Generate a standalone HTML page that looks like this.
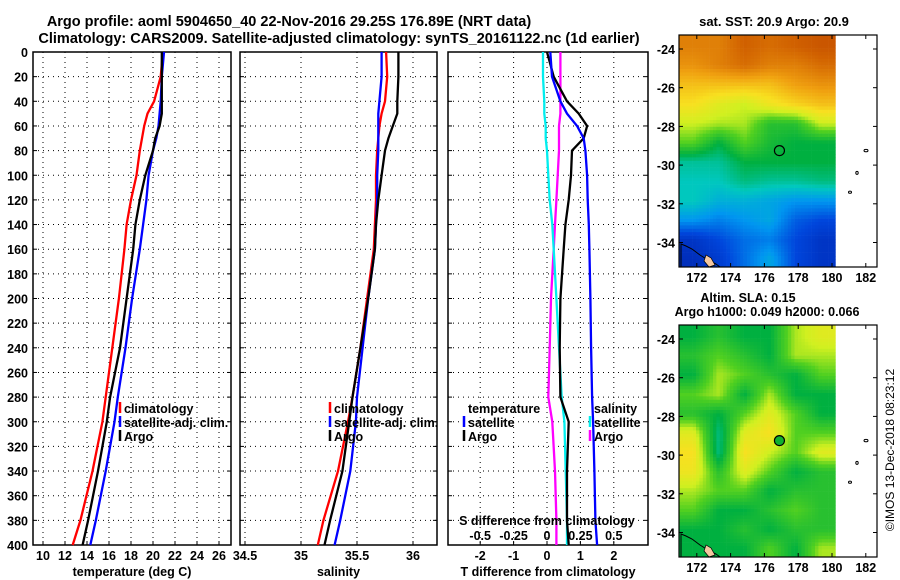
<!DOCTYPE html>
<html><head><meta charset="utf-8"><style>
html,body{margin:0;padding:0;background:#fff;}
svg{display:block;font-family:"Liberation Sans",sans-serif;font-weight:bold;}
</style></head><body>
<svg id="fig" width="900" height="580" viewBox="0 0 900 580">
<text x="289" y="26" font-size="14.5" text-anchor="middle">Argo profile: aoml 5904650_40 22-Nov-2016 29.25S 176.89E (NRT data)</text>
<text x="339" y="43" font-size="14.5" text-anchor="middle">Climatology: CARS2009. Satellite-adjusted climatology: synTS_20161122.nc (1d earlier)</text>
<text x="774" y="26" font-size="13" text-anchor="middle">sat. SST: 20.9 Argo: 20.9</text>
<text x="748" y="302" font-size="12.5" text-anchor="middle">Altim. SLA: 0.15</text>
<text x="767" y="316" font-size="12.5" text-anchor="middle">Argo h1000: 0.049 h2000: 0.066</text>
<text transform="translate(894,450) rotate(-90)" font-size="12" font-weight="normal" text-anchor="middle">©IMOS 13-Dec-2018 08:23:12</text>
<g id="g"></g>
</svg>
<script>
// ---- data ----
const depths = [0,20,40,50,60,70,80,100,120,140,160,200,240,280,300,340,380,400];
const tempClim = [20.9,20.7,20.1,19.5,19.2,19.0,18.8,18.5,18.0,17.6,17.4,16.9,16.3,15.7,15.4,14.5,13.4,12.7];
const tempSat  = [21.0,20.8,20.7,20.6,20.5,20.3,20.0,19.6,19.4,19.1,18.8,18.1,17.5,16.8,16.5,15.7,14.8,14.3];
const tempArgo = [20.8,20.8,20.8,20.8,20.6,20.2,20.0,19.3,18.8,18.4,18.2,17.6,17.0,16.1,15.8,15.0,14.1,13.6];
const salClim = [35.76,35.77,35.75,35.72,35.70,35.69,35.68,35.67,35.67,35.66,35.65,35.59,35.53,35.46,35.42,35.33,35.20,35.15];
const salSat  = [35.72,35.72,35.70,35.69,35.69,35.69,35.69,35.68,35.68,35.67,35.66,35.60,35.55,35.50,35.49,35.44,35.35,35.30];
const salArgo = [35.87,35.87,35.86,35.86,35.82,35.78,35.75,35.72,35.69,35.67,35.66,35.60,35.53,35.46,35.43,35.37,35.26,35.21];
const tDiffSat  = [0.1,0.15,0.4,0.6,0.9,1.1,1.15,1.2,1.22,1.25,1.27,1.3,1.32,1.35,1.38,1.42,1.45,1.5];
const tDiffArgo = [0.0,0.2,0.6,0.95,1.2,1.1,0.75,0.72,0.65,0.55,0.5,0.4,0.38,0.4,0.65,0.6,0.6,0.65];
const sDiffArgo = [0.1,0.1,0.1,0.1,0.09,0.09,0.09,0.08,0.07,0.06,0.05,0.03,0.02,0.01,0.04,0.06,0.07,0.07];
const sDiffSat  = [-0.03,-0.03,-0.02,-0.02,-0.01,-0.01,0.0,0.01,0.02,0.04,0.05,0.07,0.09,0.11,0.13,0.14,0.15,0.15];
const depthTicks = [0,20,40,60,80,100,120,140,160,180,200,220,240,260,280,300,320,340,360,380,400];
const tempTicks = [10,12,14,16,18,20,22,24,26];
const salTicks = [34.5,35,35.5,36];
const tdTicks = [-2,-1,0,1,2];
const sdTicks = [-0.5,-0.25,0,0.25,0.5];
const sstGrid = [
[.85,.85,.9,.88,.9,.92],[.82,.85,.88,.85,.85,.88],[.75,.75,.75,.75,.8,.82],[.7,.65,.62,.68,.72,.75],
[.62,.6,.6,.5,.5,.62],[.55,.45,.55,.48,.45,.45],[.38,.38,.45,.45,.45,.45],[.35,.35,.4,.38,.38,.4],
[.35,.3,.3,.28,.25,.25],[.25,.22,.25,.28,.18,.15],[.1,.15,.2,.22,.15,.1],[.08,.12,.2,.28,.15,.1]];
const slaGrid = [
[.45,.5,.45,.45,.6,.65],[.5,.55,.5,.45,.6,.6],[.45,.6,.55,.5,.45,.55],[.55,.6,.45,.6,.45,.45],
[.5,.45,.55,.65,.55,.45],[.65,.4,.65,.7,.55,.55],[.7,.4,.7,.62,.55,.65],[.68,.5,.65,.55,.45,.5],
[.6,.55,.55,.45,.5,.5],[.55,.45,.45,.5,.55,.5],[.45,.45,.5,.45,.5,.5],[.45,.45,.45,.55,.45,.6]];
const latTicks = [-24,-26,-28,-30,-32,-34];
const lonTicks = [172,174,176,178,180,182];

const NS='http://www.w3.org/2000/svg';
const G=document.getElementById('g');
function mk(tag,attrs,parent){const e=document.createElementNS(NS,tag);for(const k in attrs)e.setAttribute(k,attrs[k]);(parent||G).appendChild(e);return e;}
function txt(x,y,s,size,anchor,parent){const t=mk('text',{x:x,y:y,'font-size':size||12,'text-anchor':anchor||'middle'},parent);t.textContent=s;return t;}

const Y0=52,Y1=545;
const yD=d=>Y0+(Y1-Y0)*d/400;

function panel(name,L,R,xScale,ticks,label,showY,fmt){
  const g=mk('g',{});
  
  
  depthTicks.forEach(d=>{
    mk('line',{x1:L,x2:R,y1:yD(d),y2:yD(d),stroke:'#000','stroke-width':1,'stroke-dasharray':'1 4'},g);
    mk('line',{x1:L,x2:L+4,y1:yD(d),y2:yD(d),stroke:'#000'},g);
    mk('line',{x1:R-4,x2:R,y1:yD(d),y2:yD(d),stroke:'#000'},g);
    if(showY){const t=txt(L-5,yD(d)+5,String(d),12.5,'end',g);
      
      }
  });
  ticks.forEach(v=>{
    const x=xScale(v);
    mk('line',{x1:x,x2:x,y1:Y0,y2:Y1,stroke:'#000','stroke-dasharray':'1 4'},g);
    mk('line',{x1:x,x2:x,y1:Y1,y2:Y1-4,stroke:'#000'},g);
    const t=txt(x,560,fmt?fmt(v):String(v),12.5,'middle',g);
    
    
  });
  mk('rect',{x:L,y:Y0,width:R-L,height:Y1-Y0,fill:'none',stroke:'#000','stroke-width':1.5},g);
  const t=txt((L+R)/2,576,label,12.5,'middle',g);
  
  
  return g;
}
function line(vals,xScale,color,name,parent,ys){
  const pts=vals.map((v,i)=>xScale(v).toFixed(1)+','+yD((ys||depths)[i]).toFixed(1)).join(' ');
  const p=mk('polyline',{points:pts,fill:'none',stroke:color,'stroke-width':2.3},parent);
  
  
}
function legend(x,y,items,parent,anchor){
  items.forEach((it,i)=>{
    const yy=y+i*14;
    if(it[1]) mk('line',{x1:x-4,x2:x-4,y1:yy-11,y2:yy,stroke:it[1],'stroke-width':2.5},parent);
    const t=txt(x,yy,it[0],12.5,anchor||'start',parent);
    
    
  });
}

// Panel 1 temperature
const xT=v=>43+(v-10)*11;
const p1=panel('temperature-panel',33,231,xT,tempTicks,'temperature (deg C)',true);
line(tempClim,xT,'#f00','temp-climatology-line',p1);
line(tempSat,xT,'#00f','temp-satellite-line',p1);
line(tempArgo,xT,'#000','temp-argo-line',p1);
legend(124,413,[['climatology','#f00'],['satellite-adj. clim.','#00f'],['Argo','#000']],p1);

// Panel 2 salinity
const xS=v=>245+(v-34.5)*112;
const p2=panel('salinity-panel',240,437,xS,salTicks,'salinity',false);
line(salClim,xS,'#f00','sal-climatology-line',p2);
line(salSat,xS,'#00f','sal-satellite-line',p2);
line(salArgo,xS,'#000','sal-argo-line',p2);
legend(334,413,[['climatology','#f00'],['satellite-adj. clim.','#00f'],['Argo','#000']],p2);

// Panel 3 differences
const xTD=v=>547+v*33.4;
const xSD=v=>547+v*133.6;
const p3=panel('difference-panel',448,648,xTD,tdTicks,'T difference from climatology',false);
line(sDiffArgo,xSD,'#f0f','sdiff-argo-line',p3);
line(sDiffSat,xSD,'#0ee','sdiff-satellite-line',p3);
line(tDiffArgo,xTD,'#000','tdiff-argo-line',p3);
line(tDiffSat,xTD,'#00f','tdiff-satellite-line',p3);
legend(468,413,[['temperature',null],['satellite','#00f'],['Argo','#000']],p3);
legend(594,413,[['salinity',null],['satellite','#0ee'],['Argo','#f0f']],p3);
{const t=txt(547,525,'S difference from climatology',12.5,'middle',p3);

}
sdTicks.forEach(v=>{const t=txt(xSD(v),540,String(v),12.5,'middle',p3);

});

// Maps
const stops=[[0,[0,20,150]],[.15,[0,70,220]],[.25,[0,150,240]],[.35,[0,200,190]],[.45,[0,176,64]],[.55,[80,208,32]],[.62,[208,240,32]],[.7,[248,224,32]],[.8,[240,160,16]],[.9,[208,96,0]],[1,[176,48,0]]];
function cmap(v){for(let i=1;i<stops.length;i++){if(v<=stops[i][0]){const a=stops[i-1],b=stops[i],f=(v-a[0])/(b[0]-a[0]);return 'rgb('+a[1].map((c,k)=>Math.round(c+(b[1][k]-c)*f)).join(',')+')';}}return 'rgb(176,48,0)';}
function bil(grid,r,c){r=Math.max(0,Math.min(grid.length-1,r));c=Math.max(0,Math.min(grid[0].length-1,c));
  const r0=Math.floor(r),c0=Math.floor(c),r1=Math.min(r0+1,grid.length-1),c1=Math.min(c0+1,grid[0].length-1),fr=r-r0,fc=c-c0;
  return grid[r0][c0]*(1-fr)*(1-fc)+grid[r0][c1]*(1-fr)*fc+grid[r1][c0]*fr*(1-fc)+grid[r1][c1]*fr*fc;}
function map(name,top,bottom,grid,latOf24){
  const g=mk('g',{});
  
  
  const L=679,R=877,imgR=832,ppd=16.9,lat=l=>latOf24+(-24-l)*19.35,lon=v=>832+(v-180)*ppd;
  const cs=3.4;
  for(let y=top;y<bottom;y+=cs){for(let x=L;x<imgR;x+=cs){
    const r=(y-top)/(bottom-top)*grid.length-0.5,c=(x-L)/(imgR-L)*grid[0].length-0.5;
    mk('rect',{x:x.toFixed(1),y:y.toFixed(1),width:cs+0.3,height:Math.min(cs+0.3,bottom-y),fill:cmap(bil(grid,r,c))},g);}}
  // NZ coast (small, bottom-left corner)
  mk('path',{d:'M681 '+(bottom-23)+' L686 '+(bottom-21)+' L692 '+(bottom-18)+' L700 '+(bottom-12)+' L708 '+(bottom-7)+' L716 '+(bottom-3)+' L720 '+bottom+' L681 '+bottom+'Z',fill:'none',stroke:'#000','stroke-width':1},g);
  mk('path',{d:'M706 '+(bottom-12)+' L711 '+(bottom-9)+' L715 '+(bottom-2)+' L709 '+bottom+' L704 '+(bottom-6)+'Z',fill:'#f5c8a0',stroke:'#000','stroke-width':0.7},g);
  // islands
  mk('ellipse',{cx:866,cy:lat(-29.25),rx:2,ry:1.2,fill:'none',stroke:'#000'},g);
  mk('ellipse',{cx:857,cy:lat(-30.4),rx:1.2,ry:1.5,fill:'none',stroke:'#000'},g);
  mk('ellipse',{cx:850,cy:lat(-31.4),rx:1.5,ry:1.1,fill:'none',stroke:'#000'},g);
  const c=mk('circle',{cx:lon(176.89),cy:lat(-29.25),r:5,fill:name==='sla-map'?'#10b030':'none',stroke:'#000','stroke-width':1.2},g);
  
  
  mk('rect',{x:L,y:top,width:R-L,height:bottom-top,fill:'none',stroke:'#000','stroke-width':1.2},g);
  latTicks.forEach(v=>{const y=lat(v);
    mk('line',{x1:L,x2:L+4,y1:y,y2:y,stroke:'#000'},g);mk('line',{x1:R-4,x2:R,y1:y,y2:y,stroke:'#000'},g);
    const t=txt(L-4,y+5,String(v),12.5,'end',g);
    
    });
  lonTicks.forEach(v=>{const x=lon(v);
    mk('line',{x1:x,x2:x,y1:bottom,y2:bottom-4,stroke:'#000'},g);mk('line',{x1:x,x2:x,y1:top,y2:top+4,stroke:'#000'},g);
    const t=txt(x,bottom+15,String(v),12.5,'middle',g);
    
    });
}
map('sst-map',35,267,sstGrid,49);
map('sla-map',325,557,slaGrid,339);
</script>
</body></html>
